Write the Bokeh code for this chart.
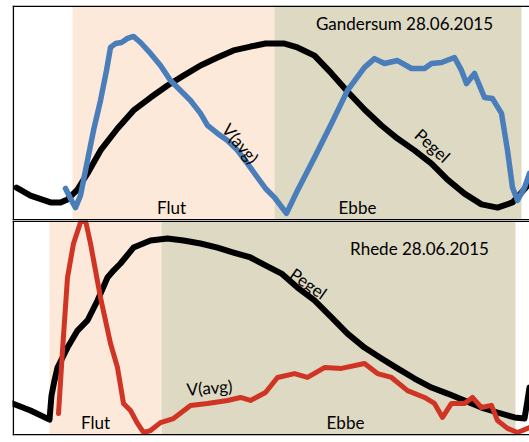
from bokeh.plotting import figure
from bokeh.layouts import column
from bokeh.models import BoxAnnotation, Span, Range1d, ColumnDataSource
from bokeh.core.properties import value
from bokeh.embed import file_html
from bokeh.resources import INLINE
import math

# ---------------- data (time in hours from left edge, value in % of panel height) ----------
# Top panel: Gandersum
g_title = "Gandersum 28.06.2015"
g_flut = [1.5, 6.55]
g_ebbe = [6.55, 12.725]
g_pegel_t = [0.10, 0.45, 0.95, 1.20, 1.375, 1.625, 1.875, 2.20, 2.625, 3.025, 3.45, 3.875, 4.275,
             4.70, 5.125, 5.525, 5.95, 6.325, 6.80, 7.125, 7.55, 7.975, 8.375, 8.80, 9.225, 9.625,
             10.05, 10.475, 10.875, 11.30, 11.725, 12.125, 12.50, 12.725, 12.925]
g_pegel_v = [15.3, 11.6, 8.4, 8.4, 9.8, 14.4, 21.9, 32.6, 42.8, 51.2, 57.2, 62.8, 67.4,
             72.1, 75.8, 79.1, 80.9, 82.3, 82.3, 80.5, 76.7, 68.4, 60.0, 51.6, 44.2, 38.1,
             32.6, 26.5, 19.0, 12.5, 7.5, 6.0, 8.4, 13.0, 17.2]
g_vavg_t = [1.325, 1.45, 1.575, 1.70, 1.825, 2.025, 2.20, 2.35, 2.45, 2.575, 2.725, 2.875, 3.025,
            3.20, 3.45, 3.70, 3.95, 4.20, 4.45, 4.70, 4.875, 5.125, 5.375, 5.625, 5.875, 6.125,
            6.325, 6.55, 6.85, 7.125, 7.55, 7.975, 8.375, 8.80, 9.05, 9.30, 9.625, 9.975, 10.30,
            10.475, 10.725, 11.05, 11.225, 11.35, 11.55, 11.80, 12.00, 12.225, 12.375, 12.50,
            12.625, 12.80, 12.925]
g_vavg_v = [14.9, 10.2, 6.0, 11.6, 23.3, 41.9, 55.8, 69.8, 80.5, 82.3, 82.8, 84.7, 85.6,
            82.8, 77.7, 72.1, 65.1, 60.5, 55.8, 49.8, 44.2, 40.5, 37.2, 32.6, 26.5, 20.0,
            14.9, 10.7, 3.3, 14.0, 29.3, 45.1, 60.5, 71.2, 75.3, 73.0, 74.4, 70.7, 70.7,
            73.0, 73.5, 75.8, 69.8, 63.7, 68.4, 57.2, 56.7, 49.8, 32.6, 15.3,
            9.3, 15.3, 21.9]
g_labels = ["Flut", "Ebbe", "V(avg)", "Pegel", g_title]
g_lab_t = [3.975, 8.625, 5.70, 10.50, 9.80]
g_lab_v = [6.0, 6.0, 35.8, 34.9, 91.6]
g_lab_angle_deg = [0, 0, -50, -42, 0]

# Bottom panel: Rhede
r_title = "Rhede 28.06.2015"
r_flut = [0.925, 3.725]
r_ebbe = [3.725, 12.575]
r_pegel_t = [0.0, 0.45, 0.925, 0.975, 1.05, 1.125, 1.375, 1.625, 1.875, 2.125, 2.375, 2.525, 2.70,
             3.025, 3.45, 3.875, 4.275, 4.70, 5.125, 5.525, 5.95, 6.325, 6.725, 7.125, 7.55,
             7.975, 8.375, 8.80, 9.225, 9.625, 10.05, 10.475, 10.875, 11.30, 11.725, 12.125,
             12.55, 12.80, 12.875, 12.925]
r_pegel_v = [14.9, 11.6, 7.4, 18.6, 25.6, 31.6, 40.9, 48.8, 53.5, 62.8, 73.5, 76.7, 80.0,
             87.4, 90.7, 91.6, 90.7, 89.3, 87.4, 85.1, 82.8, 79.1, 75.3, 68.8, 62.8,
             54.9, 47.4, 40.9, 35.8, 31.2, 26.5, 22.3, 19.5, 16.3, 13.0, 10.7,
             8.4, 7.9, 16.3, 22.3]
r_vavg_t = [1.15, 1.25, 1.375, 1.525, 1.70, 1.825, 1.95, 2.20, 2.45, 2.625, 2.775, 2.95, 3.125,
            3.275, 3.45, 3.70, 4.025, 4.45, 4.875, 5.375, 5.70, 5.95, 6.325, 6.625, 7.05,
            7.375, 7.80, 8.225, 8.80, 9.125, 9.475, 9.875, 10.30, 10.55, 10.75, 10.975,
            11.30, 11.50, 11.725, 11.975, 12.125, 12.375, 12.625, 12.925]
r_vavg_v = [10.2, 39.5, 73.5, 89.3, 99.1, 100.0, 89.3, 64.2, 42.8, 31.6, 14.9, 11.6, 5.6,
            1.4, 2.3, 6.0, 7.9, 14.0, 14.9, 16.3, 17.7, 16.3, 20.0, 27.0, 28.8,
            27.0, 31.6, 31.2, 33.5, 28.8, 27.0, 20.9, 17.7, 14.9, 8.4, 14.9,
            14.9, 17.7, 13.0, 14.0, 7.0, 3.3, 1.4, 3.7]
r_labels = ["Flut", "Ebbe", "V(avg)", "Pegel", r_title]
r_lab_t = [2.075, 8.325, 4.925, 7.40, 10.175]
r_lab_v = [6.0, 6.0, 22.3, 70.7, 87.0]
r_lab_angle_deg = [0, 0, 4, -35, 0]

X_END = 12.925
PEACH = "#FDE9D9"
TAN = "#DDD9C3"
BLUE = "#4A7EBB"
RED = "#CF3424"
FONT = "Lato"


def panel(height, top_pad, bottom_pad, flut, ebbe, pegel_t, pegel_v, v_t, v_v, v_color,
          v_width, labels, lt, lv, la):
    p = figure(width=529, height=height, output_backend="svg", toolbar_location=None,
               x_range=Range1d(0, X_END), y_range=Range1d(0, 100),
               min_border_left=12, min_border_right=0, min_border_top=top_pad,
               min_border_bottom=bottom_pad)
    p.axis.visible = False
    p.grid.visible = False
    p.outline_line_color = None
    p.background_fill_color = "white"
    p.border_fill_color = "white"
    p.add_layout(BoxAnnotation(left=flut[0], right=flut[1], fill_color=PEACH, fill_alpha=1,
                               line_color=None, level="underlay"))
    p.add_layout(BoxAnnotation(left=ebbe[0], right=ebbe[1], fill_color=TAN, fill_alpha=1,
                               line_color=None, level="underlay"))
    p.line(pegel_t, pegel_v, line_color="black", line_width=6, line_join="round", line_cap="round")
    p.line(v_t, v_v, line_color=v_color, line_width=v_width, line_join="round", line_cap="round")
    src = ColumnDataSource(dict(x=lt, y=lv, text=labels, angle=[math.radians(a) for a in la]))
    p.text(x="x", y="y", text="text", angle="angle", source=src, text_font=value(FONT),
           text_font_size="17px", text_color="black", text_align="center",
           text_baseline="middle")
    for loc in (0.4, 99.6):
        p.add_layout(Span(location=loc, dimension="width", line_color="black", line_width=1.5))
    p.add_layout(Span(location=0.02, dimension="height", line_color="black", line_width=1.5))
    return p


p1 = panel(220, 5, 0, g_flut, g_ebbe, g_pegel_t, g_pegel_v, g_vavg_t, g_vavg_v, BLUE, 5.5,
           g_labels, g_lab_t, g_lab_v, g_lab_angle_deg)
p2 = panel(222, 0, 7, r_flut, r_ebbe, r_pegel_t, r_pegel_v, r_vavg_t, r_vavg_v, RED, 5,
           r_labels, r_lab_t, r_lab_v, r_lab_angle_deg)

layout = column(p1, p2, spacing=0)
open("out.html", "w").write(file_html(layout, INLINE))
